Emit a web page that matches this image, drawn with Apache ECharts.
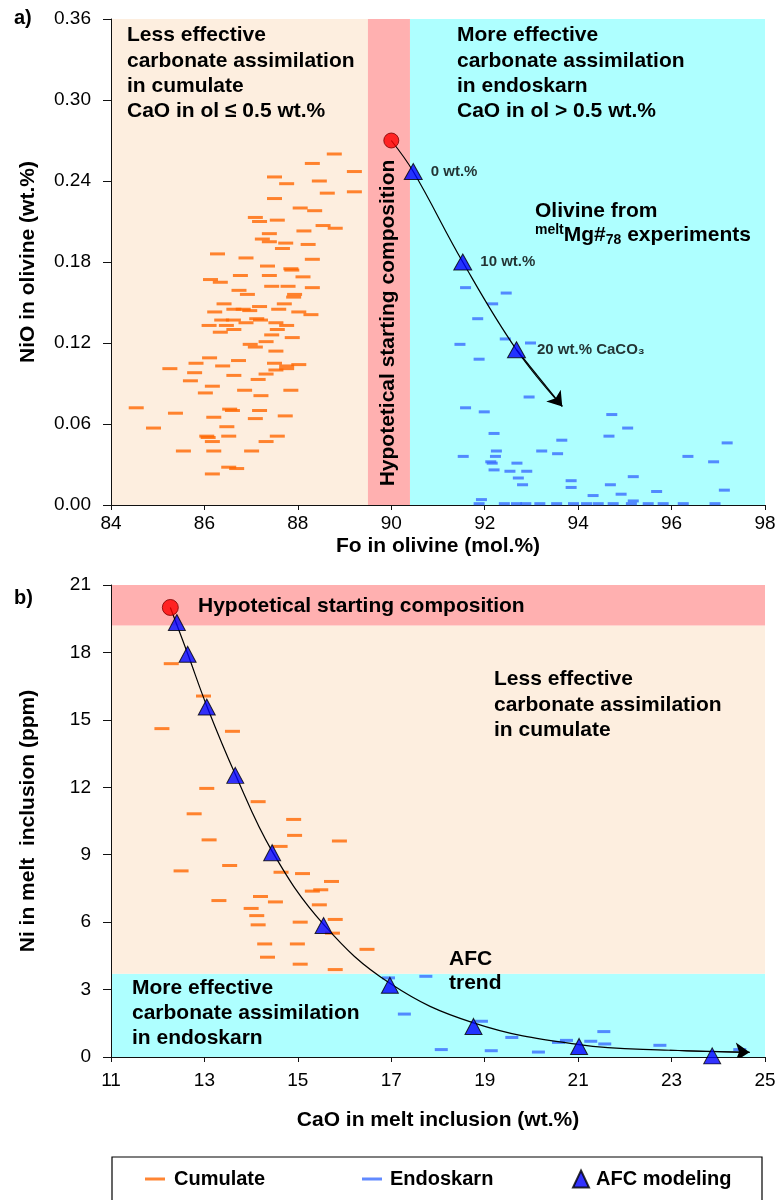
<!DOCTYPE html>
<html>
<head>
<meta charset="utf-8">
<style>
  html, body { margin: 0; padding: 0; background: #ffffff; }
  #chart { width: 780px; height: 1200px; }
</style>
<script src="https://cdn.jsdelivr.net/npm/echarts@6/dist/echarts.min.js"></script>
</head>
<body>
<div id="chart"></div>
<script>
// ---------- Panel a: NiO vs Fo in olivine ----------
const foTicks = [84, 86, 88, 90, 92, 94, 96, 98];
const nioTicks = [0, 0.06, 0.12, 0.18, 0.24, 0.30, 0.36];
// field boundaries along Fo: cumulate | starting composition | endoskarn
const foBandEdges = [84, 89.5, 90.4, 98];

const cumulateFo = [88.78, 88.31, 89.21, 87.50, 87.76, 88.46, 88.63, 89.21, 87.50, 88.05,
  88.36, 87.09, 87.18, 87.56, 88.54, 88.80, 88.13, 87.39, 87.24, 87.39,
  87.74, 87.67, 88.22, 86.28, 86.89, 88.31, 87.35, 87.85, 87.87, 86.13,
  86.34, 86.77, 87.39, 88.11, 87.44, 87.79, 88.31, 86.74, 86.92, 87.93,
  87.91, 86.42, 87.18, 87.71, 86.22, 86.63, 86.83, 86.97, 87.59, 88.02,
  88.28, 86.37, 86.62, 87.12, 87.20, 86.89, 87.53, 86.10, 86.47, 87.76,
  86.63, 87.56, 86.34, 87.44, 87.88, 87.32, 86.98, 87.09, 87.53, 86.11,
  85.82, 86.73, 86.39, 87.50, 87.76, 88.02, 87.76, 87.53, 85.26, 85.79,
  86.63, 87.32, 85.70, 87.15, 86.17, 86.02, 86.86, 87.21, 87.85, 86.54,
  86.60, 87.18, 85.38, 86.20, 87.09, 87.73, 84.91, 86.48, 86.05, 86.08,
  86.52, 87.56, 86.17, 87.32, 85.55, 86.20, 87.01, 86.52, 86.69, 86.17,
  84.54];
const cumulateNiO = [0.260, 0.253, 0.247, 0.243, 0.238, 0.240, 0.231, 0.232, 0.227, 0.220,
  0.218, 0.213, 0.210, 0.211, 0.207, 0.205, 0.203, 0.201, 0.197, 0.195,
  0.194, 0.190, 0.193, 0.186, 0.183, 0.182, 0.177, 0.175, 0.174, 0.167,
  0.165, 0.170, 0.170, 0.169, 0.162, 0.162, 0.161, 0.159, 0.156, 0.156,
  0.154, 0.149, 0.147, 0.149, 0.143, 0.145, 0.145, 0.144, 0.145, 0.143,
  0.141, 0.137, 0.137, 0.138, 0.137, 0.135, 0.135, 0.133, 0.133, 0.133,
  0.130, 0.130, 0.128, 0.126, 0.124, 0.121, 0.119, 0.117, 0.114, 0.109,
  0.105, 0.107, 0.103, 0.105, 0.103, 0.104, 0.101, 0.100, 0.101, 0.098,
  0.096, 0.097, 0.092, 0.093, 0.088, 0.083, 0.085, 0.081, 0.085, 0.071,
  0.070, 0.070, 0.068, 0.065, 0.064, 0.066, 0.057, 0.058, 0.051, 0.050,
  0.051, 0.051, 0.047, 0.047, 0.040, 0.040, 0.040, 0.028, 0.027, 0.023,
  0.072];

const endoskarnFo = [91.59, 92.46, 92.17, 91.85, 92.44, 92.98, 91.47, 91.88, 92.95, 91.59,
  91.99, 94.72, 95.06, 92.20, 94.66, 93.65, 97.19, 92.25, 93.22, 93.56,
  91.54, 92.23, 96.35, 92.13, 92.16, 96.90, 92.69, 92.20, 92.54, 92.90,
  92.72, 95.18, 93.85, 92.81, 94.69, 93.85, 95.68, 97.13, 94.92, 94.32,
  91.93, 91.88, 92.42, 92.68, 92.88, 93.18, 93.54, 93.90, 94.18, 94.43,
  94.75, 95.14, 95.50, 95.82, 96.25, 96.93, 95.18];
const endoskarnNiO = [0.161, 0.157, 0.149, 0.138, 0.123, 0.120, 0.119, 0.108, 0.080, 0.072,
  0.069, 0.067, 0.057, 0.053, 0.051, 0.048, 0.046, 0.040, 0.040, 0.038,
  0.036, 0.036, 0.036, 0.032, 0.031, 0.032, 0.031, 0.026, 0.025, 0.025,
  0.020, 0.021, 0.018, 0.015, 0.015, 0.013, 0.010, 0.011, 0.008, 0.007,
  0.004, 0.001, 0.001, 0.001, 0.001, 0.001, 0.001, 0.001, 0.001, 0.001,
  0.001, 0.001, 0.001, 0.001, 0.001, 0.001, 0.003];

const startFo = [90.0];
const startNiO = [0.270];
const modelFo = [90.47, 91.53, 92.68];
const modelNiO = [0.247, 0.180, 0.115];
const modelLabels = ['0 wt.%', '10 wt.%', '20 wt.% CaCO\u2083'];
const trendFo = [90.0, 90.47, 91.53, 92.68, 93.66];
const trendNiO = [0.270, 0.247, 0.180, 0.115, 0.073];

// ---------- Panel b: Ni vs CaO in melt inclusions ----------
const caoTicks = [11, 13, 15, 17, 19, 21, 23, 25];
const niTicks = [0, 3, 6, 9, 12, 15, 18, 21];
// field boundaries along Ni: endoskarn | cumulate | starting composition
const niBandEdges = [0, 3.7, 19.2, 21];

const cumulateCaO = [12.29, 12.98, 12.09, 13.60, 13.05, 14.15, 12.78, 14.91, 13.10, 14.93,
  15.89, 14.62, 12.50, 13.54, 14.64, 15.10, 15.72, 15.31, 15.49, 13.31,
  14.20, 14.52, 14.00, 14.12, 15.46, 14.15, 15.05, 15.80, 15.74, 14.29,
  14.99, 16.48, 14.35, 15.05, 15.80];
const cumulateNi = [17.50, 16.06, 14.61, 14.49, 11.95, 11.36, 10.82, 10.57, 9.66, 9.86,
  9.61, 9.37, 8.28, 8.52, 8.22, 8.16, 7.81, 7.38, 7.44, 6.96,
  7.14, 6.90, 6.61, 6.29, 6.77, 5.88, 6.00, 6.12, 5.51, 5.03,
  5.03, 4.79, 4.44, 4.13, 3.89];

const endoskarnCaO = [16.94, 17.74, 17.28, 18.93, 18.07, 19.14, 19.58, 20.15, 20.58, 20.75,
  21.27, 21.55, 21.57, 22.75, 24.46];
const endoskarnNi = [3.52, 3.59, 1.91, 1.59, 0.33, 0.28, 0.87, 0.22, 0.65, 0.74,
  0.70, 1.13, 0.58, 0.52, 0.33];

const startCaO = [12.27];
const startNi = [20.0];
const afcCaO = [12.41, 12.64, 13.05, 13.66, 14.45, 15.55, 16.97, 18.76, 21.02, 23.87];
const afcNi = [19.33, 17.92, 15.57, 12.53, 9.09, 5.85, 3.19, 1.36, 0.47, 0.05];
const trendCaO = [12.27, 12.64, 13.05, 13.66, 14.45, 15.55, 16.97, 18.76, 21.02, 22.96, 24.67];
const trendNi = [20.0, 17.95, 15.62, 12.58, 9.15, 5.90, 3.28, 1.52, 0.55, 0.30, 0.21];

// ---------- styling ----------
const FONT = '"Liberation Sans", Arial, Helvetica, sans-serif';
const PEACH = '#FDEEDF', PINK = '#FFB0B0', CYAN = '#AEFFFF';
const ORANGE = '#FF6600', BLUE = '#3A6DFF', TRI = '#0000FF';

const pairs = (xs, ys) => xs.map((x, i) => [x, ys[i]]);
const spans = edges => edges.slice(0, -1).map((e, i) => [e, edges[i + 1]]);

function bandSeries(name, gridIdx, data, colors) {
  return {
    name, type: 'custom', xAxisIndex: gridIdx, yAxisIndex: gridIdx,
    silent: true, z: 0, clip: true,
    encode: { x: [0, 1], y: [2, 3] },
    data,
    renderItem(params, api) {
      const p0 = api.coord([api.value(0), api.value(3)]);
      const p1 = api.coord([api.value(1), api.value(2)]);
      return {
        type: 'rect',
        shape: { x: p0[0], y: p0[1], width: p1[0] - p0[0], height: p1[1] - p0[1] },
        style: { fill: colors[params.dataIndex] }
      };
    }
  };
}

function dashSeries(name, gridIdx, xs, ys, color, w) {
  return {
    name, type: 'scatter', xAxisIndex: gridIdx, yAxisIndex: gridIdx, z: 2,
    symbol: 'rect', symbolSize: [w, 3],
    itemStyle: { color },
    data: pairs(xs, ys)
  };
}

function trendSeries(name, gridIdx, xs, ys) {
  return {
    name, type: 'line', xAxisIndex: gridIdx, yAxisIndex: gridIdx, z: 3,
    smooth: 0.4, showSymbol: false, silent: true,
    lineStyle: { color: '#000', width: 1.2 },
    data: pairs(xs, ys)
  };
}

// arrowhead drawn along the last stretch of a trend
function arrowSeries(name, gridIdx, xs, ys) {
  const n = xs.length;
  return {
    name, type: 'lines', coordinateSystem: 'cartesian2d', xAxisIndex: gridIdx, yAxisIndex: gridIdx, z: 3,
    symbol: ['none', 'arrow'], symbolSize: 14, silent: true,
    lineStyle: { color: '#000', width: 1.2, opacity: 1 },
    data: [{ coords: [[xs[n - 2], ys[n - 2]], [xs[n - 1], ys[n - 1]]] }]
  };
}

function axisCommon(ticks, extra) {
  return Object.assign({
    type: 'value',
    min: ticks[0], max: ticks[ticks.length - 1],
    axisLine: { show: true, onZero: false, lineStyle: { color: '#111', width: 1 } },
    splitLine: { show: false },
    nameLocation: 'middle',
    nameTextStyle: { fontFamily: FONT, fontWeight: 'bold', fontSize: 21, color: '#000' }
  }, extra);
}

const labelStyle = { fontFamily: FONT, fontSize: 19, color: '#000' };

const option = {
  animation: false,
  backgroundColor: '#ffffff',
  grid: [
    { left: 111, top: 19, width: 654, height: 486, outerBoundsMode: 'none' },
    { left: 111, top: 585, width: 654, height: 472, outerBoundsMode: 'none' }
  ],
  xAxis: [
    axisCommon(foTicks, {
      gridIndex: 0, name: 'Fo in olivine (mol.%)', nameGap: 31,
      axisTick: { show: true, length: 5, customValues: foTicks, lineStyle: { color: '#111' } },
      axisLabel: Object.assign({ customValues: foTicks, margin: 9 }, labelStyle)
    }),
    axisCommon(caoTicks, {
      gridIndex: 1, name: 'CaO in melt inclusion (wt.%)', nameGap: 53,
      axisTick: { show: true, length: 5, customValues: caoTicks, lineStyle: { color: '#111' } },
      axisLabel: Object.assign({ customValues: caoTicks, margin: 14 }, labelStyle)
    })
  ],
  yAxis: [
    axisCommon(nioTicks, {
      gridIndex: 0, name: 'NiO in olivine (wt.%)', nameGap: 72, nameRotate: 90,
      axisTick: { show: true, length: 8, customValues: nioTicks, lineStyle: { color: '#111' } },
      axisLabel: Object.assign({ customValues: nioTicks, margin: 20, formatter: v => v.toFixed(2) }, labelStyle)
    }),
    axisCommon(niTicks, {
      gridIndex: 1, name: 'Ni in melt  inclusion (ppm)', nameGap: 72, nameRotate: 90,
      axisTick: { show: true, length: 8, customValues: niTicks, lineStyle: { color: '#111' } },
      axisLabel: Object.assign({ customValues: niTicks, margin: 20 }, labelStyle)
    })
  ],
  legend: [
    { data: ['Cumulate'], left: 140, top: 1164, icon: 'rect', itemWidth: 20, itemHeight: 3,
      textStyle: { fontFamily: FONT, fontWeight: 'bold', fontSize: 20, color: '#000', padding: [0, 0, 0, 4] } },
    { data: ['Endoskarn'], left: 357, top: 1164, icon: 'rect', itemWidth: 20, itemHeight: 3,
      textStyle: { fontFamily: FONT, fontWeight: 'bold', fontSize: 20, color: '#000', padding: [0, 0, 0, 3] } },
    { data: ['AFC modeling'], left: 567, top: 1164, icon: 'triangle', itemWidth: 16, itemHeight: 17,
      textStyle: { fontFamily: FONT, fontWeight: 'bold', fontSize: 20, color: '#000', padding: [0, 0, 0, 2] } }
  ],
  series: [
    // panel a
    bandSeries('fields a', 0, spans(foBandEdges).map(s => [s[0], s[1], nioTicks[0], nioTicks[nioTicks.length - 1]]), [PEACH, PINK, CYAN]),
    dashSeries('Cumulate', 0, cumulateFo, cumulateNiO, ORANGE, 15),
    dashSeries('Endoskarn', 0, endoskarnFo, endoskarnNiO, BLUE, 11),
    trendSeries('trend a', 0, trendFo, trendNiO),
    arrowSeries('arrow a', 0, trendFo, trendNiO),
    {
      name: 'AFC modeling', type: 'scatter', xAxisIndex: 0, yAxisIndex: 0, z: 4,
      symbol: 'triangle', symbolSize: [18, 16],
      itemStyle: { color: TRI, borderColor: '#000', borderWidth: 1 },
      label: {
        show: true, position: 'right', distance: 8,
        formatter: p => modelLabels[p.dataIndex],
        fontFamily: FONT, fontWeight: 'bold', fontSize: 15, color: '#000'
      },
      data: pairs(modelFo, modelNiO).map((d, i) => i === 2 ? { value: d, label: { distance: 11 } } : d)
    },
    {
      name: 'start a', type: 'scatter', xAxisIndex: 0, yAxisIndex: 0, z: 4,
      symbol: 'circle', symbolSize: 15,
      itemStyle: { color: '#FF0000', borderColor: '#7a0000', borderWidth: 1 },
      data: pairs(startFo, startNiO)
    },
    // panel b
    bandSeries('fields b', 1, spans(niBandEdges).map(s => [caoTicks[0], caoTicks[caoTicks.length - 1], s[0], s[1]]), [CYAN, PEACH, PINK]),
    dashSeries('Cumulate', 1, cumulateCaO, cumulateNi, ORANGE, 15),
    dashSeries('Endoskarn', 1, endoskarnCaO, endoskarnNi, BLUE, 13),
    trendSeries('trend b', 1, trendCaO, trendNi),
    arrowSeries('arrow b', 1, trendCaO, trendNi),
    {
      name: 'AFC modeling', type: 'scatter', xAxisIndex: 1, yAxisIndex: 1, z: 4,
      symbol: 'triangle', symbolSize: [17, 16],
      itemStyle: { color: TRI, borderColor: '#000', borderWidth: 1 },
      data: pairs(afcCaO, afcNi)
    },
    {
      name: 'start b', type: 'scatter', xAxisIndex: 1, yAxisIndex: 1, z: 4,
      symbol: 'circle', symbolSize: 16,
      itemStyle: { color: '#FF0000', borderColor: '#7a0000', borderWidth: 1 },
      data: pairs(startCaO, startNi)
    }
  ],
  graphic: [
    // panel letters
    { type: 'text', x: 14, y: 18, style: { text: 'a)', fontFamily: FONT, fontWeight: 'bold', fontSize: 20, fill: '#000', verticalAlign: 'middle' } },
    { type: 'text', x: 14, y: 598, style: { text: 'b)', fontFamily: FONT, fontWeight: 'bold', fontSize: 20, fill: '#000', verticalAlign: 'middle' } },
    // panel a field notes
    { type: 'text', x: 127, y: 23, z: 10, style: { text: 'Less effective\ncarbonate assimilation\nin cumulate\nCaO in ol \u2264 0.5 wt.%',
      fontFamily: FONT, fontWeight: 'bold', fontSize: 21, lineHeight: 25.3, fill: '#000' } },
    { type: 'text', x: 457, y: 23, z: 10, style: { text: 'More effective\ncarbonate assimilation\nin endoskarn\nCaO in ol > 0.5 wt.%',
      fontFamily: FONT, fontWeight: 'bold', fontSize: 21, lineHeight: 25.3, fill: '#000' } },
    { type: 'text', x: 535, y: 198.5, z: 10, style: {
      text: 'Olivine from\n{sup|melt}Mg#{sub|78} experiments',
      fontFamily: FONT, fontWeight: 'bold', fontSize: 21, lineHeight: 24.5, fill: '#000',
      rich: {
        sup: { fontFamily: FONT, fontWeight: 'bold', fontSize: 14, verticalAlign: 'top', lineHeight: 10, fill: '#000' },
        sub: { fontFamily: FONT, fontWeight: 'bold', fontSize: 14, verticalAlign: 'bottom', lineHeight: 12, fill: '#000' }
      } } },
    { type: 'text', x: 388, y: 323, rotation: Math.PI / 2, z: 10, style: { text: 'Hypotetical starting composition',
      fontFamily: FONT, fontWeight: 'bold', fontSize: 21, fill: '#000', align: 'center', verticalAlign: 'middle' } },
    // panel b field notes
    { type: 'text', x: 198, y: 606, z: 10, style: { text: 'Hypotetical starting composition',
      fontFamily: FONT, fontWeight: 'bold', fontSize: 21, fill: '#000', verticalAlign: 'middle' } },
    { type: 'text', x: 494, y: 667, z: 10, style: { text: 'Less effective\ncarbonate assimilation\nin cumulate',
      fontFamily: FONT, fontWeight: 'bold', fontSize: 21, lineHeight: 25.3, fill: '#000' } },
    { type: 'text', x: 132, y: 975.5, z: 10, style: { text: 'More effective\ncarbonate assimilation\nin endoskarn',
      fontFamily: FONT, fontWeight: 'bold', fontSize: 21, lineHeight: 25, fill: '#000' } },
    { type: 'text', x: 449, y: 947, z: 10, style: { text: 'AFC\ntrend',
      fontFamily: FONT, fontWeight: 'bold', fontSize: 21, lineHeight: 24, fill: '#000' } },
    // legend frame
    { type: 'rect', z: 5, shape: { x: 112, y: 1157, width: 650, height: 70 },
      style: { fill: 'none', stroke: '#000', lineWidth: 1.2 } }
  ]
};

const chart = echarts.init(document.getElementById('chart'), null, { renderer: 'canvas' });
chart.setOption(option);
</script>
</body>
</html>
